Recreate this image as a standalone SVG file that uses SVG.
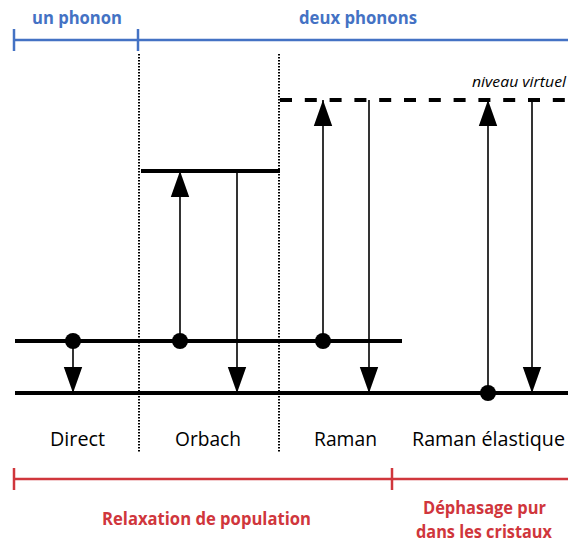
<svg xmlns="http://www.w3.org/2000/svg" width="568" height="542" viewBox="0 0 568 542">
<style>
.blue{stroke:#4472C4;stroke-width:2.5;fill:none}
.red{stroke:#D0363C;stroke-width:2.5;fill:none}
.btxt{font-family:"Open Sans","Liberation Sans",sans-serif;font-weight:bold;font-size:18px;fill:#4472C4}
.rtxt{font-family:"Open Sans","Liberation Sans",sans-serif;font-weight:bold;font-size:18px;fill:#D0363C}
.lbl{font-family:"Open Sans","Liberation Sans",sans-serif;font-size:19.5px;fill:#000}
.lvl{stroke:#000;stroke-width:4;fill:none}
.dot{stroke:#000;stroke-width:2;stroke-dasharray:1.5 1.5;fill:none}
.arr{stroke:#000;stroke-width:1.6;fill:none;marker-end:url(#ah)}
</style>
<defs>
<marker id="ah" markerUnits="userSpaceOnUse" markerWidth="26" markerHeight="20" viewBox="0 0 24 18" refX="24" refY="9" orient="auto">
<path d="M0,0.5 L24,9 L0,17.5 z" fill="#000"/>
</marker>
</defs>
<rect width="568" height="542" fill="#fff"/>
<g id="top-scale">
<line class="blue" x1="14" y1="40" x2="568" y2="40"/>
<line class="blue" x1="14" y1="29" x2="14" y2="51"/>
<line class="blue" x1="138" y1="29" x2="138" y2="51"/>
<text class="btxt" x="32" y="24" textLength="90" lengthAdjust="spacingAndGlyphs">un phonon</text>
<text class="btxt" x="299" y="24" textLength="118" lengthAdjust="spacingAndGlyphs">deux phonons</text>
</g>
<g id="separators">
<line class="dot" x1="139" y1="54" x2="139" y2="452"/>
<line class="dot" x1="279" y1="54" x2="279" y2="452"/>
</g>
<g id="levels">
<line class="lvl" x1="15" y1="393" x2="568" y2="393"/>
<line class="lvl" x1="15" y1="341" x2="402" y2="341"/>
<line class="lvl" x1="141" y1="171" x2="280" y2="171"/>
<line class="lvl" x1="280" y1="100" x2="568" y2="100" stroke-dasharray="12 12.8"/>
<text x="566" y="87" text-anchor="end" font-family="'Open Sans','Liberation Sans',sans-serif" font-style="italic" font-size="15" textLength="94" lengthAdjust="spacingAndGlyphs">niveau virtuel</text>
</g>
<g id="connectors">
<line class="arr" x1="73" y1="341" x2="73" y2="393"/>
<line class="arr" x1="180" y1="341" x2="180" y2="171"/>
<line class="arr" x1="237" y1="171" x2="237" y2="393"/>
<line class="arr" x1="323" y1="341" x2="323" y2="100"/>
<line class="arr" x1="369" y1="100" x2="369" y2="393"/>
<line class="arr" x1="488" y1="393" x2="488" y2="100"/>
<line class="arr" x1="532" y1="100" x2="532" y2="393"/>
</g>
<g id="direct">
<circle cx="73" cy="341" r="8"/>
<text class="lbl" x="50" y="446" textLength="55" lengthAdjust="spacingAndGlyphs">Direct</text>
</g>
<g id="orbach">
<circle cx="180" cy="341" r="8"/>
<text class="lbl" x="175" y="446" textLength="66" lengthAdjust="spacingAndGlyphs">Orbach</text>
</g>
<g id="raman">
<circle cx="323" cy="341" r="8"/>
<text class="lbl" x="314" y="446" textLength="63" lengthAdjust="spacingAndGlyphs">Raman</text>
</g>
<g id="raman-elastique">
<circle cx="488" cy="393" r="8"/>
<text class="lbl" x="412" y="446" textLength="153" lengthAdjust="spacingAndGlyphs">Raman élastique</text>
</g>
<g id="bottom-scale">
<line class="red" x1="14" y1="479" x2="568" y2="479"/>
<line class="red" x1="14" y1="468" x2="14" y2="490"/>
<line class="red" x1="392" y1="468" x2="392" y2="490"/>
<text class="rtxt" x="102" y="525" textLength="209" lengthAdjust="spacingAndGlyphs">Relaxation de population</text>
<text class="rtxt" x="423" y="514" textLength="123" lengthAdjust="spacingAndGlyphs">Déphasage pur</text>
<text class="rtxt" x="416" y="538" textLength="136" lengthAdjust="spacingAndGlyphs">dans les cristaux</text>
</g>
</svg>
